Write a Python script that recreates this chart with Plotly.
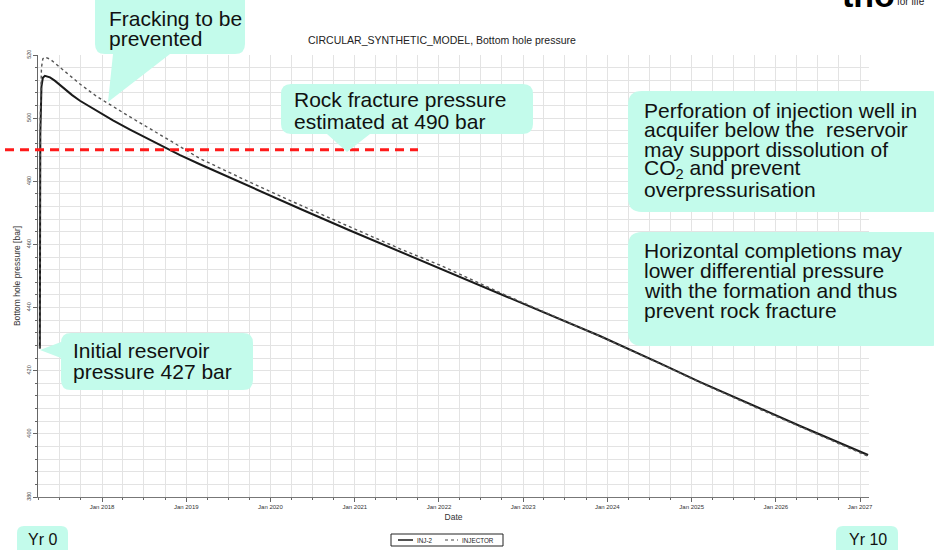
import plotly.graph_objects as go

# ---- data -----------------------------------------------------------------
dates = ["2017-04-06", "2017-04-08", "2017-04-13", "2017-04-19", "2017-04-28",
         "2017-05-20", "2017-06-11", "2017-07-16", "2017-08-24", "2017-09-27",
         "2017-12-10", "2018-02-17", "2018-05-02", "2018-07-15", "2018-09-22",
         "2018-12-05", "2019-03-01", "2019-10-04", "2020-05-08", "2020-12-11",
         "2021-07-16", "2022-01-06", "2022-09-23", "2023-04-28", "2023-11-30",
         "2024-08-17", "2025-02-07", "2025-11-24", "2026-04-16", "2027-02-05"]

inj2 = [427, 495, 510, 512.8, 513.4, 512.9, 511.8, 509.6, 507.3, 505.5,
        502.2, 499.3, 496.4, 493.6, 491.0, 488.3, 485.4, 478.3, 471.3, 464.4,
        457.7, 452.5, 444.5, 437.8, 431.0, 422.3, 416.4, 407.1, 402.5, 393.3]

injector = [427, 500, 516, 518.8, 519.3, 518.7, 517.4, 515.2, 512.8, 510.8,
            506.8, 503.6, 500.4, 497.2, 494.3, 491.0, 487.2, 479.7, 472.5, 465.5,
            458.6, 453.4, 444.7, 437.8, 430.9, 422.2, 416.2, 406.8, 402.2, 392.9]

series_names = ["INJ-2", "INJECTOR"]
fracture_pressure = 490

x_range = ["2017-03-29", "2027-02-09"]
y_range = [380, 520]

# ---- geometry helpers (page pixels -> paper fractions) --------------------
W, H = 934, 550
PL, PR, PT, PB = 38, 869, 55, 497


def px(x):
    return (x - PL) / (PR - PL)


def py(y):
    return (PB - y) / (PB - PT)


def pt(x, y):
    return f"{px(x):.5f},{py(y):.5f}"


def bubble(x0, y0, x1, y1, r, tail=None):
    """Rounded box, optionally with a pointer on the bottom or left edge."""
    p = [f"M{pt(x0 + r, y0)}", f"L{pt(x1 - r, y0)}", f"Q{pt(x1, y0)} {pt(x1, y0 + r)}",
         f"L{pt(x1, y1 - r)}", f"Q{pt(x1, y1)} {pt(x1 - r, y1)}"]
    if tail and tail[0] == "bottom":
        _, b0, b1, tx, ty = tail
        p += [f"L{pt(b1, y1)}", f"L{pt(tx, ty)}", f"L{pt(b0, y1)}"]
    p += [f"L{pt(x0 + r, y1)}", f"Q{pt(x0, y1)} {pt(x0, y1 - r)}"]
    if tail and tail[0] == "left":
        _, b0, b1, tx, ty = tail
        p += [f"L{pt(x0, b1)}", f"L{pt(tx, ty)}", f"L{pt(x0, b0)}"]
    p += [f"L{pt(x0, y0 + r)}", f"Q{pt(x0, y0)} {pt(x0 + r, y0)}", "Z"]
    return "".join(p)


MINT = "#c3fbeb"
FONT = "Liberation Sans, Arial, sans-serif"
GRID = "#e3e3e3"

fig = go.Figure()

fig.add_trace(go.Scatter(x=dates, y=inj2, name=series_names[0], mode="lines",
                         line=dict(color="#1a1a1a", width=2), showlegend=False))
fig.add_trace(go.Scatter(x=dates, y=injector, name=series_names[1], mode="lines",
                         line=dict(color="#555555", width=1.4, dash="dot"),
                         showlegend=False))

shapes = []
annotations = []

# rock fracture pressure marker
shapes.append(dict(type="line", xref="paper", yref="y", x0=px(5), x1=px(418),
                   y0=fracture_pressure, y1=fracture_pressure,
                   line=dict(color="#ff1a1a", width=3, dash="9px,6px"), layer="above"))

# callout boxes
boxes = [
    (95, -12, 245, 54, 10, ("bottom", 113, 170, 108, 102)),
    (281, 84, 533, 134, 10, ("bottom", 327, 370, 347, 152)),
    (628, 91, 945, 212, 14, None),
    (628, 232, 945, 346, 14, None),
    (61, 333, 253, 390, 10, ("left", 342, 358, 40, 350)),
    (17, 526, 68, 560, 7, None),
    (836, 526, 898, 560, 7, None),
]
for x0, y0, x1, y1, r, tail in boxes:
    shapes.append(dict(type="path", xref="paper", yref="paper",
                       path=bubble(x0, y0, x1, y1, r, tail),
                       fillcolor=MINT, line=dict(width=0), layer="above"))

# callout texts: (left x, centre y, text, size)
texts = [
    (107, 18, "Fracking to be", 21),
    (107, 39, "prevented", 21),
    (292, 100, "Rock fracture pressure", 21),
    (292, 121, "estimated at 490 bar", 21),
    (642, 110, "Perforation of injection well in", 21),
    (642, 129.8, "acquifer below the  reservoir", 21),
    (642, 149.6, "may support dissolution of", 21),
    (642, 169.4, "CO<sub>2</sub> and prevent", 21),
    (642, 189.2, "overpressurisation", 21),
    (642, 250, "Horizontal completions may", 21),
    (642, 270, "lower differential pressure", 21),
    (642, 290, "with the formation and thus", 21),
    (642, 310.5, "prevent rock fracture", 21),
    (71, 350, "Initial reservoir", 21),
    (71, 371, "pressure 427 bar", 21),
    (26, 539, "Yr 0", 16),
    (847, 539, "Yr 10", 16),
]
for x, y, t, s in texts:
    annotations.append(dict(xref="paper", yref="paper", x=px(x), y=py(y), text=t,
                            showarrow=False, xanchor="left", yanchor="middle",
                            font=dict(family=FONT, size=s, color="#111111")))

# chart title
annotations.append(dict(xref="paper", yref="paper", x=px(441.5), y=py(40),
                        text="CIRCULAR_SYNTHETIC_MODEL, Bottom hole pressure",
                        showarrow=False, xanchor="center", yanchor="middle",
                        font=dict(family=FONT, size=10.5, color="#222222")))

# legend box drawn under the axis
shapes.append(dict(type="rect", xref="paper", yref="paper", x0=px(391), x1=px(503),
                   y0=py(534), y1=py(546), fillcolor="white",
                   line=dict(color="#222222", width=1)))
shapes.append(dict(type="line", xref="paper", yref="paper", x0=px(398), x1=px(413),
                   y0=py(540), y1=py(540), line=dict(color="#1a1a1a", width=1.5)))
shapes.append(dict(type="line", xref="paper", yref="paper", x0=px(445), x1=px(458),
                   y0=py(540), y1=py(540), line=dict(color="#444444", width=1, dash="dot")))
for x, t in [(415, series_names[0]), (460, series_names[1])]:
    annotations.append(dict(xref="paper", yref="paper", x=px(x), y=py(540), text=t,
                            showarrow=False, xanchor="left", yanchor="middle",
                            font=dict(family=FONT, size=6.3, color="#222222")))

# corporate mark in the top right corner
annotations.append(dict(xref="paper", yref="paper", x=px(840), y=py(16),
                        text="<b>tno</b>", showarrow=False, xanchor="left",
                        yanchor="bottom", font=dict(family=FONT, size=34, color="#000000")))
annotations.append(dict(xref="paper", yref="paper", x=px(895), y=py(9),
                        text="for life", showarrow=False, xanchor="left",
                        yanchor="bottom", font=dict(family=FONT, size=10, color="#222222")))

fig.update_layout(
    width=W, height=H,
    margin=dict(l=PL, r=W - PR, t=PT, b=H - PB, pad=0),
    paper_bgcolor="white", plot_bgcolor="white",
    font=dict(family=FONT, color="#333333"),
    shapes=shapes, annotations=annotations,
    xaxis=dict(
        type="date", range=x_range, tick0="2018-01-01", dtick="M12",
        tickformat="%b %Y", tickfont=dict(size=6, color="#333333"),
        ticks="outside", ticklen=4, tickcolor="#666666",
        showline=True, linecolor="#777777", linewidth=1,
        showgrid=True, gridcolor=GRID, gridwidth=1, zeroline=False,
        minor=dict(dtick="M3", showgrid=True, gridcolor=GRID, ticks="outside",
                   ticklen=2, tickcolor="#666666"),
        title=dict(text="Date", font=dict(size=8.5, color="#333333"), standoff=4),
        automargin=False, fixedrange=True,
    ),
    yaxis=dict(
        range=y_range, tick0=380, dtick=20, tickangle=-90,
        tickfont=dict(size=5.5, color="#444444"),
        ticks="outside", ticklen=4, tickcolor="#666666",
        showline=True, linecolor="#666666", linewidth=1,
        showgrid=True, gridcolor=GRID, gridwidth=1, zeroline=False,
        minor=dict(dtick=4, showgrid=True, gridcolor=GRID, ticks="outside",
                   ticklen=2, tickcolor="#666666"),
        title=dict(text="Bottom hole pressure [bar]",
                   font=dict(size=8.5, color="#333333"), standoff=3),
        automargin=False, fixedrange=True,
    ),
)

fig.write_html("out.html")
